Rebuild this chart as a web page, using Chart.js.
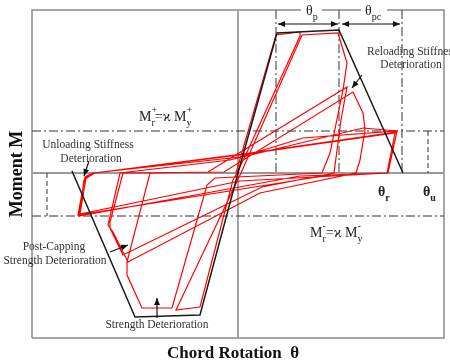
<!DOCTYPE html>
<html>
<head>
<meta charset="utf-8">
<script src="https://cdn.jsdelivr.net/npm/chart.js@4"></script>
<style>
  body { margin: 0; background: #fff; }
  #wrap { width: 450px; height: 363px; }
</style>
</head>
<body>
<div id="wrap"><canvas id="myChart"></canvas></div>
<script>
// axis range (chord rotation / moment, arbitrary units)
const thetaMin = -206, thetaMax = 206;
const momentMin = -165, momentMax = 163;

// backbone curve
const backboneTheta  = [-166, -103, -38, 0, 39, 101, 165];
const backboneMoment = [2, -144, -142, 0, 140, 143, 0];

// hysteresis response (in load order)
const loopTheta  = [-2, 38, 62, 62, 10, -1, -5, -38, -62, 3, 64, 100, 109, 105, 92, 84,
  -23, -31, -66, -96, -111, -111, -88, -30, 109, 103, 96, 24, -115, -128, -128, -115,
  -14, 115, 125, 127, 122, 118, 22, -110, -125, -130, -118, -8, 125, 159, 150, 92,
  -160, -153, -145, 2, 65, 159, 150, 2, -158, -152, -143, 2, 157, 149, 62,
  -159, -154, -144, 12, 158];
const loopMoment = [0, 138, 141, 137, 23, 0, -7, -134, -137, 0, 138, 140, 110, 83, 20, 0,
  -5, -12, -135, -135, -102, -89, 0, 1, 86, 53, 0, -14, -82, -55, -49, 0,
  1, 81, 60, 43, 13, 0, -20, -89, -59, -52, 0, 13, 45, 42, 0, -2,
  -42, -4, 0, 16, 35, 42, 0, -8, -41, -5, 0, 18, 40, 0, -3,
  -43, -7, 0, 20, 41];

// residual strength levels and rotation marks
const residualLevels = [42, -43];
const rotationMarks = [38, 101, 164];
const thetaU = 190, thetaUneg = -191;

const pts = (xs, ys) => xs.map((x, i) => ({ x: x, y: ys[i] }));

const serif = '"Liberation Serif", "Times New Roman", serif';

const datasets = [];
// frame
datasets.push({
  data: pts([thetaMin, thetaMax, thetaMax, thetaMin, thetaMin], [momentMin, momentMin, momentMax, momentMax, momentMin]),
  borderColor: '#8a8a8a', borderWidth: 1.5, order: 9
});
// axes through origin
datasets.push({ data: pts([0, 0], [momentMin, momentMax]), borderColor: '#9a9a9a', borderWidth: 1.8, order: 8 });
datasets.push({ data: pts([thetaMin, thetaMax], [0, 0]), borderColor: '#9a9a9a', borderWidth: 1.8, order: 8 });
// residual levels (dash-dot)
residualLevels.forEach(function (m) {
  datasets.push({ data: pts([thetaMin, thetaMax], [m, m]), borderColor: '#333', borderWidth: 1, borderDash: [9, 3, 2, 3], order: 7 });
});
rotationMarks.forEach(function (t) {
  datasets.push({ data: pts([t, t], [momentMax, 0]), borderColor: '#333', borderWidth: 1, borderDash: [9, 3, 2, 3], order: 7 });
});
// dashed marks at ultimate rotation
datasets.push({ data: pts([thetaU, thetaU], [residualLevels[0], 0]), borderColor: '#333', borderWidth: 1, borderDash: [5, 3], order: 7 });
datasets.push({ data: pts([thetaUneg, thetaUneg], [0, residualLevels[1]]), borderColor: '#333', borderWidth: 1, borderDash: [5, 3], order: 7 });
// hysteresis
datasets.push({ data: pts(loopTheta, loopMoment), borderColor: '#ff0000', borderWidth: 1.2, order: 2 });
// backbone
datasets.push({ data: pts(backboneTheta, backboneMoment), borderColor: '#1a1a1a', borderWidth: 1.5, order: 1 });

datasets.forEach(function (d) {
  d.showLine = true; d.pointRadius = 0; d.fill = false; d.clip = false; d.tension = 0;
});

// arrows [x1, y1, x2, y2, heads]
const arrows = [
  [-149, 12, -154, -3, 1],
  [124, 98, 114, 85, 1],
  [-128, -79, -110, -72, 1],
  [-81, -145, -81, -125, 1],
  [40, 149, 100, 149, 2],
  [104, 149, 162, 149, 2]
];

function head(ctx, x, y, ang) {
  ctx.save();
  ctx.translate(x, y);
  ctx.rotate(ang);
  ctx.beginPath();
  ctx.moveTo(0, 0);
  ctx.lineTo(-7, -3);
  ctx.lineTo(-7, 3);
  ctx.closePath();
  ctx.fill();
  ctx.restore();
}

// draws text with sub/superscripts: parts = [text, size, dy, noAdvance]
function rich(ctx, x, y, parts, bold) {
  let cx = x;
  parts.forEach(function (p) {
    ctx.font = (bold ? 'bold ' : '') + p[1] + 'px ' + serif;
    ctx.fillText(p[0], cx, y + (p[2] || 0));
    if (!p[3]) cx += ctx.measureText(p[0]).width;
  });
}

const notes = {
  id: 'notes',
  afterDatasetsDraw: function (chart) {
    const ctx = chart.ctx;
    const sx = chart.scales.x, sy = chart.scales.y;
    ctx.save();
    ctx.fillStyle = '#111';
    ctx.strokeStyle = '#111';
    ctx.lineWidth = 1.2;
    arrows.forEach(function (a) {
      const x1 = sx.getPixelForValue(a[0]), y1 = sy.getPixelForValue(a[1]);
      const x2 = sx.getPixelForValue(a[2]), y2 = sy.getPixelForValue(a[3]);
      ctx.beginPath(); ctx.moveTo(x1, y1); ctx.lineTo(x2, y2); ctx.stroke();
      const ang = Math.atan2(y2 - y1, x2 - x1);
      head(ctx, x2, y2, ang);
      if (a[4] === 2) head(ctx, x1, y1, ang + Math.PI);
    });

    // labels over the top frame
    ctx.fillStyle = '#fff';
    ctx.fillRect(301, 3, 21, 14);
    ctx.fillRect(361, 3, 26, 14);
    ctx.fillStyle = '#222';
    ctx.textBaseline = 'alphabetic';
    ctx.textAlign = 'left';
    rich(ctx, 306, 15, [['θ', 14], ['p', 10, 5]]);
    rich(ctx, 365, 15, [['θ', 14], ['pc', 10, 5]]);
    rich(ctx, 378, 196, [['θ', 14], ['r', 10, 5]], true);
    rich(ctx, 423, 196, [['θ', 14], ['u', 10, 5]], true);

    rich(ctx, 139, 121, [['M', 14], ['+', 10, -8, 1], ['r', 10, 5], ['=ϰ M', 14], ['+', 10, -8, 1], ['y', 10, 5]]);
    rich(ctx, 310, 237, [['M', 14], ['-', 10, -8, 1], ['r', 10, 5], ['=ϰ M', 14], ['-', 10, -8, 1], ['y', 10, 5]]);

    ctx.fillStyle = '#333';
    ctx.font = '11.5px ' + serif;
    ctx.textAlign = 'center';
    ctx.textBaseline = 'middle';
    ctx.fillText('Unloading Stiffness', 88, 145);
    ctx.fillText('Deterioration', 91, 159);
    ctx.fillText('Post-Capping', 54, 247);
    ctx.fillText('Strength Deterioration', 55, 261);
    ctx.fillText('Strength Deterioration', 157, 325);
    ctx.textAlign = 'left';
    ctx.fillText('Reloading Stiffness', 367, 52);
    ctx.textAlign = 'center';
    ctx.fillText('Deterioration', 411, 65);

    ctx.fillStyle = '#111';
    ctx.font = 'bold 17px ' + serif;
    ctx.fillText('Chord Rotation  θ', 233, 354);
    ctx.translate(17, 174);
    ctx.rotate(-Math.PI / 2);
    ctx.font = 'bold 18px ' + serif;
    ctx.fillText('Moment M', 0, 0);
    ctx.restore();
  }
};

const config = {
  type: 'scatter',
  data: { datasets: datasets },
  options: {
    responsive: true,
    maintainAspectRatio: false,
    animation: false,
    events: [],
    layout: { padding: { left: 32, right: 6, top: 10, bottom: 25 } },
    scales: {
      x: { type: 'linear', min: thetaMin, max: thetaMax, display: false },
      y: { type: 'linear', min: momentMin, max: momentMax, display: false }
    },
    plugins: {
      legend: { display: false },
      tooltip: { enabled: false }
    }
  },
  plugins: [notes]
};

var myChart = new Chart(document.getElementById('myChart'), config);
</script>
</body>
</html>
